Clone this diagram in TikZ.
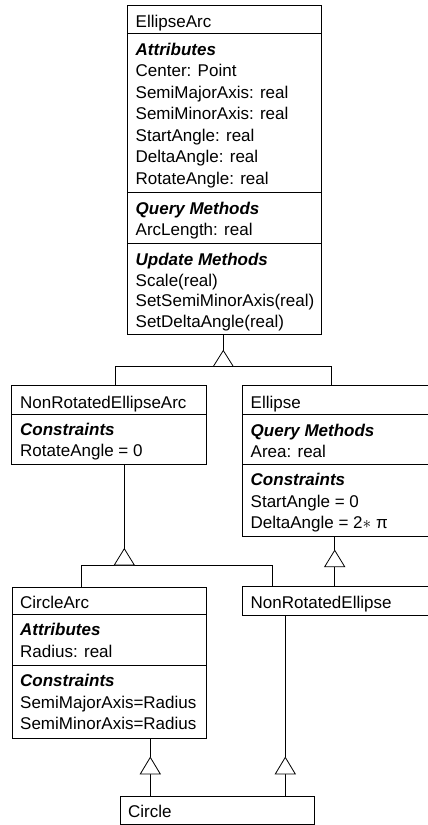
\documentclass[tikz,border=0pt]{standalone}
\usepackage{fontspec}
\setmainfont{Liberation Sans}
\begin{document}
\begin{tikzpicture}[x=1pt,y=-1pt,
  box/.style={draw, line width=0.8pt, anchor=north west, inner sep=0pt, outer sep=0pt},
  txt/.style={anchor=base west, inner sep=0pt, font=\fontsize{17}{20}\selectfont},
  hd/.style={anchor=base west, inner sep=0pt, font=\fontsize{17}{20}\selectfont\bfseries\itshape},
  sep/.style={line width=0.8pt},
  conn/.style={line width=0.8pt},
  tri/.style={line width=0.8pt, fill=white, line join=miter}]
\clip (0,0) rectangle (428,825);

% ---------- EllipseArc ----------
\node[box, minimum width=194pt, minimum height=329pt] (ea) at (127.5,5) {};
\draw[sep] (ea.west |- 0,33) -- (ea.east |- 0,33);
\draw[sep] (ea.west |- 0,192) -- (ea.east |- 0,192);
\draw[sep] (ea.west |- 0,243) -- (ea.east |- 0,243);
\node[txt] (ea0) at (135.5,27.5) {EllipseArc};
\node[hd]  (ea1) at (135.5,55) {Attributes};
\node[txt] (ea2) at (135.5,76.5) {Center: Point};
\node[txt] (ea3) at (135.5,98) {SemiMajorAxis: real};
\node[txt] (ea4) at (135.5,119.5) {SemiMinorAxis: real};
\node[txt] (ea5) at (135.5,141) {StartAngle: real};
\node[txt] (ea6) at (135.5,162.5) {DeltaAngle: real};
\node[txt] (ea7) at (135.5,184) {RotateAngle: real};
\node[hd]  (ea8) at (135.5,214) {Query Methods};
\node[txt] (ea9) at (135.5,235.5) {ArcLength: real};
\node[hd]  (ea10) at (135.5,265) {Update Methods};
\node[txt] (ea11) at (135.5,286) {Scale(real)};
\node[txt] (ea12) at (135.5,306.5) {SetSemiMinorAxis(real)};
\node[txt] (ea13) at (135.5,327) {SetDeltaAngle(real)};

% ---------- NonRotatedEllipseArc ----------
\node[box, minimum width=194.3pt, minimum height=78.3pt] (nrea) at (11.7,385.7) {};
\draw[sep] (nrea.west |- 0,414) -- (nrea.east |- 0,414);
\node[txt] (nrea0) at (20,408) {NonRotatedEllipseArc};
\node[hd]  (nrea1) at (20,435.5) {Constraints};
\node[txt] (nrea2) at (20,456.5) {RotateAngle = 0};

% ---------- Ellipse ----------
\node[box, minimum width=194pt, minimum height=150.3pt] (el) at (242.3,385.7) {};
\draw[sep] (el.west |- 0,414) -- (el.east |- 0,414);
\draw[sep] (el.west |- 0,464) -- (el.east |- 0,464);
\node[txt] (el0) at (250.5,408) {Ellipse};
\node[hd]  (el1) at (250.5,436.5) {Query Methods};
\node[txt] (el2) at (250.5,457) {Area: real};
\node[hd]  (el3) at (250.5,485) {Constraints};
\node[txt] (el4) at (250.5,507) {StartAngle = 0};
\node[txt] (el5) at (250.5,528.5) {DeltaAngle = 2$\ast$ π};

% ---------- CircleArc ----------
\node[box, minimum width=194pt, minimum height=151.3pt] (ca) at (12,587) {};
\draw[sep] (ca.west |- 0,614) -- (ca.east |- 0,614);
\draw[sep] (ca.west |- 0,665) -- (ca.east |- 0,665);
\node[txt] (ca0) at (20,608) {CircleArc};
\node[hd]  (ca1) at (20,635.5) {Attributes};
\node[txt] (ca2) at (20,657) {Radius: real};
\node[hd]  (ca3) at (20,686.5) {Constraints};
\node[txt] (ca4) at (20,708.3) {SemiMajorAxis=Radius};
\node[txt] (ca5) at (20,729.5) {SemiMinorAxis=Radius};

% ---------- NonRotatedEllipse ----------
\node[box, minimum width=194pt, minimum height=29pt] (nre) at (242.3,586.7) {};
\node[txt] (nre0) at (250.5,608.5) {NonRotatedEllipse};

% ---------- Circle ----------
\node[box, minimum width=194.3pt, minimum height=28.3pt] (ci) at (120,796) {};
\node[txt] (ci0) at (128,817) {Circle};

% ---------- connectors ----------
% EllipseArc <- NonRotatedEllipseArc, Ellipse
\coordinate (t1) at (223.3,350.5);
\coordinate (j1l) at (115.7,366.5);
\coordinate (j1r) at (331.7,366.5);
\draw[conn] (ea.south -| t1) -- (t1);
\draw[conn] (nrea.north -| j1l) -- (j1l) -- (j1r) -- (el.north -| j1r);
\draw[tri] (t1) -- ++(-10,16) -- ++(20,0) -- cycle;

% NonRotatedEllipseArc <- CircleArc, NonRotatedEllipse
\coordinate (t2) at (124.3,548.7);
\coordinate (j2l) at (81,565);
\coordinate (j2r) at (272.7,565);
\draw[conn] (nrea.south -| t2) -- (t2);
\draw[conn] (ca.north -| j2l) -- (j2l) -- (j2r) -- (nre.north -| j2r);
\draw[tri] (t2) -- ++(-10,16.3) -- ++(20,0) -- cycle;

% Ellipse <- NonRotatedEllipse
\coordinate (t3) at (334.7,550.3);
\draw[conn] (el.south -| t3) -- (t3);
\draw[conn] (nre.north -| t3) -- ++(0,-20);
\draw[tri] (t3) -- ++(-10,16.4) -- ++(20,0) -- cycle;

% CircleArc <- Circle
\coordinate (t4) at (150.3,757.3);
\draw[conn] (ca.south -| t4) -- (t4);
\draw[conn] (ci.north -| t4) -- ++(0,-22);
\draw[tri] (t4) -- ++(-10,16.7) -- ++(20,0) -- cycle;

% NonRotatedEllipse <- Circle
\coordinate (t5) at (285.3,757.3);
\draw[conn] (nre.south -| t5) -- (t5);
\draw[conn] (ci.north -| t5) -- ++(0,-22);
\draw[tri] (t5) -- ++(-10,16.7) -- ++(20,0) -- cycle;
\end{tikzpicture}
\end{document}
